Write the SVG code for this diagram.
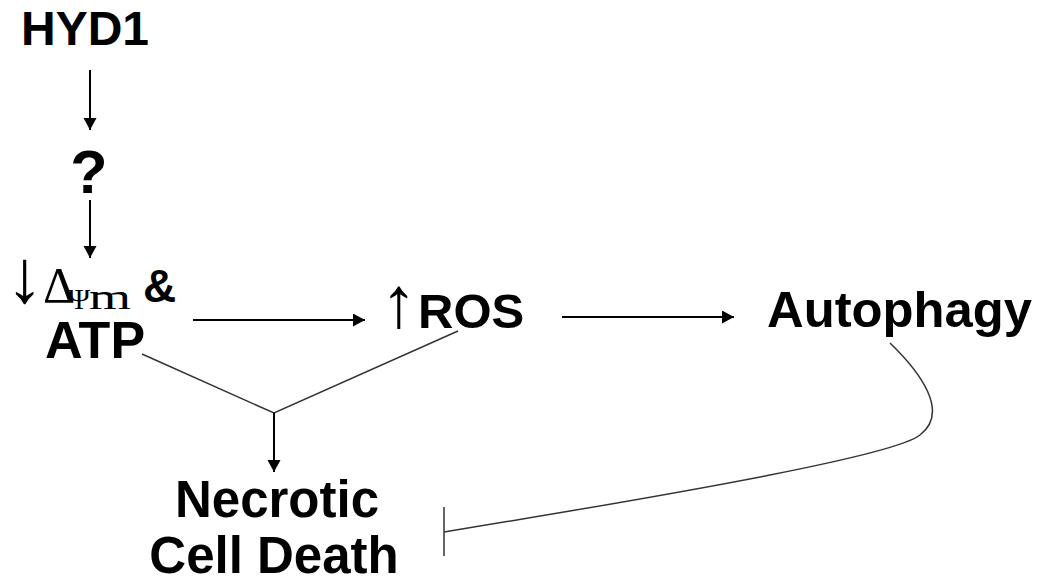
<svg xmlns="http://www.w3.org/2000/svg" width="1051" height="582" viewBox="0 0 1051 582">
<defs>
<style>
.b{font-family:"Liberation Sans",Arial,sans-serif;font-weight:bold;fill:#000}
.sym{font-family:"Liberation Sans",Arial,sans-serif;font-weight:normal}
.gr{font-family:"Liberation Serif","Times New Roman",serif;font-weight:normal}
.arr{stroke:#000;stroke-width:2;fill:none}
.thin{stroke:#333;stroke-width:1.5;fill:none}
</style>
<marker id="ah" markerUnits="userSpaceOnUse" markerWidth="14" markerHeight="14" refX="12" refY="6.5" orient="auto">
<path d="M0,0 L12,6.5 L0,13 z" fill="#000"/>
</marker>
</defs>
<rect width="1051" height="582" fill="#fff"/>
<g id="node-hyd1"><text class="b" x="85" y="45" font-size="48" text-anchor="middle">HYD1</text></g>
<g id="node-unknown"><text class="b" x="89" y="193" font-size="61" text-anchor="middle">?</text></g>
<g id="node-mito">
<text class="b" font-size="46"><tspan class="sym" x="6" y="302" font-size="75">↓</tspan><tspan class="gr" x="43" y="302" font-size="50">Δ</tspan><tspan class="gr" x="68" y="309" font-size="30">Ψ</tspan><tspan class="gr" x="89" y="309" font-size="35" textLength="42" lengthAdjust="spacingAndGlyphs">m</tspan><tspan x="143" y="302">&amp;</tspan></text>
<text class="b" x="95" y="358" font-size="52" text-anchor="middle">ATP</text>
</g>
<g id="node-ros">
<text class="b" font-size="49"><tspan class="sym" x="381" y="327" font-size="72">↑</tspan><tspan x="418" y="328">ROS</tspan></text>
</g>
<g id="node-autophagy"><text class="b" x="767" y="327" font-size="50" textLength="265" lengthAdjust="spacingAndGlyphs">Autophagy</text></g>
<g id="node-necrotic">
<text class="b" x="277" y="517" font-size="51" text-anchor="middle">Necrotic</text>
<text class="b" x="274" y="573" font-size="51" text-anchor="middle">Cell Death</text>
</g>
<g id="connectors">
<line class="arr" x1="90" y1="70" x2="90" y2="130" marker-end="url(#ah)"/>
<line class="arr" x1="90" y1="200" x2="90" y2="258" marker-end="url(#ah)"/>
<line class="arr" x1="193" y1="320" x2="365" y2="320" marker-end="url(#ah)"/>
<line class="arr" x1="562" y1="317" x2="734" y2="317" marker-end="url(#ah)"/>
<polyline class="thin" points="142,354 274,413 458,331"/>
<line class="arr" x1="274" y1="413" x2="274" y2="472" marker-end="url(#ah)"/>
<path class="thin" d="M890,343 C920,372 950,412 920,435 C895,455 700,490 444,532"/>
<line class="thin" x1="444" y1="507" x2="444" y2="556"/>
</g>
</svg>
